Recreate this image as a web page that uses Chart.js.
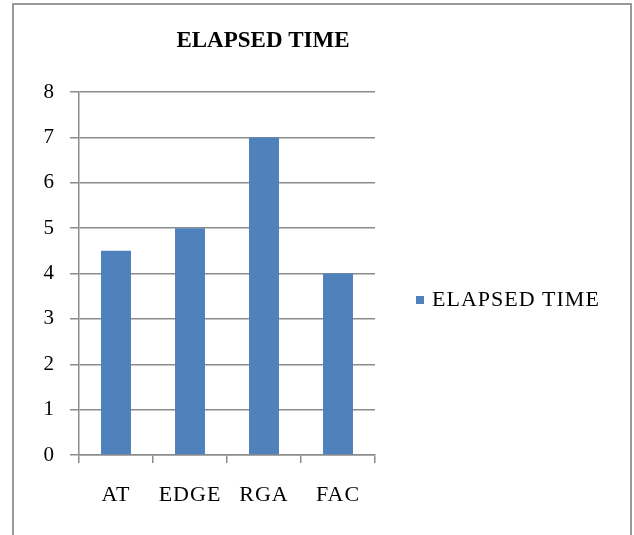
<!DOCTYPE html>
<html>
<head>
<meta charset="utf-8">
<script src="https://cdn.jsdelivr.net/npm/chart.js@4.4.0/dist/chart.umd.min.js"></script>
<style>
  body { margin: 0; background: #fff; }
  #wrap { width: 634px; height: 535px; }
</style>
</head>
<body>
<div id="wrap"><canvas id="timeChart" width="634" height="535"></canvas></div>
<script>
var categories = ["AT", "EDGE", "RGA", "FAC"];
var elapsedTime = [4.5, 5, 7, 4];
var seriesName = "ELAPSED TIME";
var yTicks = [0, 1, 2, 3, 4, 5, 6, 7, 8];

var serif = "'Liberation Serif', 'Times New Roman', serif";
var lineGray = '#8c8c8c';

// frame, title and legend, drawn like the office chart box
var framePlugin = {
    id: 'frame',
    beforeDraw: function (chart) {
        var c = chart.ctx;
        c.save();
        c.fillStyle = '#fff';
        c.fillRect(0, 0, chart.width, chart.height);
        c.strokeStyle = '#999';
        c.lineWidth = 2;
        c.strokeRect(13, 4, 618, 600);
        c.restore();
        // office text is spaced out a little
        c.letterSpacing = '1px';
    },
    afterDraw: function (chart) {
        var c = chart.ctx;
        c.save();
        c.letterSpacing = '0px';
        c.fillStyle = '#000';
        c.font = 'bold 23px ' + serif;
        c.textAlign = 'center';
        c.textBaseline = 'middle';
        c.fillText(seriesName, 263, 41);

        // legend
        var ds = chart.data.datasets[0];
        c.letterSpacing = '1px';
        c.fillStyle = ds.backgroundColor;
        c.fillRect(416, 296, 8, 8);
        c.fillStyle = '#000';
        c.font = '22px ' + serif;
        c.textAlign = 'left';
        c.fillText(ds.label, 432, 300);
        c.restore();
    }
};

var ctx = document.getElementById('timeChart').getContext('2d');
var chart = new Chart(ctx, {
    type: 'bar',
    data: {
        labels: categories,
        datasets: [{
            label: seriesName,
            backgroundColor: 'rgb(79, 129, 189)',
            data: elapsedTime,
            barPercentage: 0.405,
            categoryPercentage: 1.0
        }]
    },
    options: {
        responsive: false,
        animation: false,
        layout: {
            padding: { top: 92, left: 30, right: 259, bottom: 20 }
        },
        plugins: {
            title: { display: false },
            tooltip: { enabled: false },
            legend: { display: false }
        },
        scales: {
            x: {
                afterFit: function (axis) { axis.height = 60; },
                grid: {
                    drawOnChartArea: false,
                    drawTicks: true,
                    tickLength: 8,
                    color: lineGray,
                    lineWidth: 1.5
                },
                border: { color: lineGray, width: 1.5 },
                ticks: {
                    color: '#000',
                    padding: 19,
                    font: { family: serif, size: 22 }
                }
            },
            y: {
                min: 0,
                max: 8,
                afterFit: function (axis) { axis.width = 49; },
                afterBuildTicks: function (axis) {
                    axis.ticks = yTicks.map(function (v) { return { value: v }; });
                },
                grid: {
                    color: lineGray,
                    lineWidth: 1.5,
                    tickLength: 9
                },
                border: { color: lineGray, width: 1.5 },
                ticks: {
                    color: '#000',
                    padding: 15,
                    font: { family: serif, size: 21 }
                }
            }
        }
    },
    plugins: [framePlugin]
});
</script>
</body>
</html>
